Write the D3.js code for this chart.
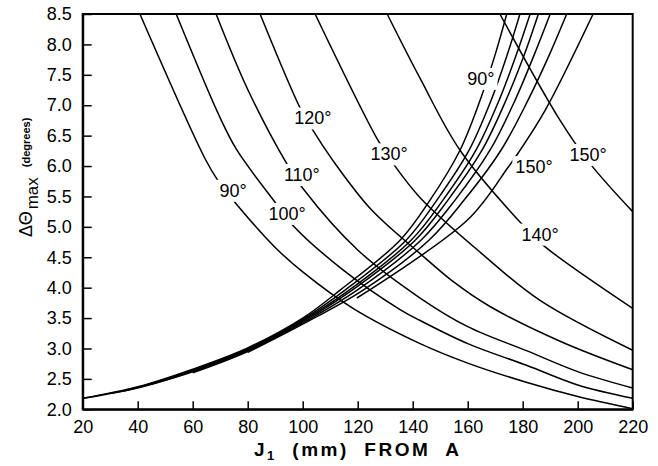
<!DOCTYPE html>
<html>
<head>
<meta charset="utf-8">
<script src="https://cdn.jsdelivr.net/npm/d3@7"></script>
<style>
body { margin: 0; background: #fff; }
text { font-family: "Liberation Sans", Arial, Helvetica, sans-serif; }
</style>
</head>
<body>
<svg id="chart" width="658" height="466"></svg>
<script>

// tick values
var xTicks = [20, 40, 60, 80, 100, 120, 140, 160, 180, 200, 220]
var yTicks = [2.0, 2.5, 3.0, 3.5, 4.0, 4.5, 5.0, 5.5, 6.0, 6.5, 7.0, 7.5, 8.0, 8.5]

var angles = [90, 100, 110, 120, 130, 140, 150]

// falling curves, [J1, delta theta max]
var desc90 = [[40.8, 8.5], [64.5, 6.12], [69.2, 5.76], [75.4, 5.40], [90, 4.66], [100, 4.26], [118.3, 3.66], [142.7, 3.08], [160, 2.76], [181.6, 2.44], [200, 2.21], [220, 2.01]]
var desc100 = [[54.0, 8.5], [69.9, 6.80], [76.1, 6.26], [90.0, 5.40], [96.1, 5.04], [115, 4.28], [135.4, 3.64], [142.7, 3.46], [160, 3.08], [181.6, 2.72], [200, 2.40], [220, 2.18]]
var desc110 = [[68.5, 8.5], [80.1, 7.25], [94.3, 6.03], [100.1, 5.63], [120, 4.62], [142.7, 3.83], [160, 3.36], [181.6, 2.96], [200, 2.62], [220, 2.35]]
var desc120 = [[84.5, 8.5], [99.0, 6.96], [103.4, 6.61], [111.0, 6.09], [125, 5.28], [142.7, 4.56], [155, 4.09], [168.1, 3.69], [194.0, 3.11], [220, 2.65]]
var desc130 = [[104.5, 8.5], [127.4, 6.42], [132.9, 6.04], [142.7, 5.48], [164.6, 4.58], [186.3, 3.79], [220, 2.97]]
var desc140 = [[130.7, 8.5], [142.7, 7.44], [157.2, 6.26], [179.0, 5.08], [187.4, 4.70], [220, 3.66]]
var desc150 = [[171.7, 8.5], [193.6, 6.75], [204.5, 6.04], [220, 5.25]]

// rising curves
var asc90 = [[20, 2.18], [40, 2.37], [60, 2.66], [80, 3.01], [100, 3.50], [113.6, 3.96], [135.4, 4.78], [146.3, 5.44], [157.2, 6.26], [164.5, 7.08], [169.9, 7.82], [174.2, 8.5]]
var asc100 = [[20, 2.18], [40, 2.36], [60, 2.645], [80, 2.995], [100, 3.48], [115.4, 3.96], [137.6, 4.78], [148.8, 5.44], [160.5, 6.26], [168.5, 7.08], [174.3, 7.82], [179.0, 8.5]]
var asc110 = [[30, 2.26], [40, 2.35], [60, 2.63], [80, 2.98], [100, 3.46], [116.9, 3.96], [139.4, 4.78], [151.0, 5.44], [163.0, 6.26], [171.4, 7.08], [177.6, 7.82], [182.7, 8.5]]
var asc120 = [[45, 2.41], [60, 2.615], [80, 2.965], [100, 3.44], [118.0, 3.96], [140.9, 4.78], [152.8, 5.44], [165.2, 6.26], [173.9, 7.08], [180.5, 7.82], [185.7, 8.5]]
var asc130 = [[60, 2.60], [80, 2.95], [100, 3.42], [119.8, 3.96], [143.0, 4.78], [155.4, 5.44], [168.1, 6.26], [177.2, 7.08], [184.1, 7.82], [190.0, 8.5]]
var asc140 = [[80, 2.935], [100, 3.40], [122.0, 3.96], [145.9, 4.78], [158.7, 5.44], [172.1, 6.26], [181.9, 7.08], [189.6, 7.82], [196.0, 8.5]]
var asc150 = [[119.7, 3.83], [160.1, 5.12], [174.7, 5.98], [178.3, 6.21], [188.1, 6.91], [205.6, 8.5]]

var descCurves = [desc90, desc100, desc110, desc120, desc130, desc140, desc150]
var ascCurves = [asc90, asc100, asc110, asc120, asc130, asc140, asc150]

// where the angle labels sit
var descLabelPos = [[74.7, 5.60], [94.3, 5.22], [99.7, 5.86], [103.7, 6.79], [131.4, 6.20], [186.3, 4.88], [203.8, 6.19]]
var ascLabelAngles = [90, 150]
var ascLabelPos = [[164.8, 7.44], [184.1, 5.99]]


var svg = d3.select("#chart")

var x = d3.scaleLinear().domain([20, 220]).range([82.7, 632.7])
var y = d3.scaleLinear().domain([2, 8.5]).range([409.3, 14])

svg.append("clipPath")
    .attr("id", "plotclip")
    .append("rect")
    .attr("x", x(20))
    .attr("y", y(8.5))
    .attr("width", x(220) - x(20))
    .attr("height", y(2) - y(8.5))

// catmull-rom keeps the sparse readings smooth
var line = d3.line()
    .x(function(d) { return x(d[0]) })
    .y(function(d) { return y(d[1]) })
    .curve(d3.curveCatmullRom.alpha(0.5))

var curves = svg.append("g").attr("clip-path", "url(#plotclip)")

curves.selectAll(".desc")
    .data(descCurves)
    .enter()
    .append("path")
    .attr("class", "desc")
    .attr("d", line)
    .attr("fill", "none")
    .attr("stroke", "#000")
    .attr("stroke-width", 1.5)

curves.selectAll(".asc")
    .data(ascCurves)
    .enter()
    .append("path")
    .attr("class", "asc")
    .attr("d", line)
    .attr("fill", "none")
    .attr("stroke", "#000")
    .attr("stroke-width", 1.5)


// labels: white box behind each one breaks the curve like in the print
var labels = []
descLabelPos.forEach(function(p, i) {
    labels.push({text: angles[i] + "°", pos: p})
})
ascLabelPos.forEach(function(p, i) {
    labels.push({text: ascLabelAngles[i] + "°", pos: p})
})

var lab = svg.selectAll(".anglelabel")
    .data(labels)
    .enter()
    .append("g")
    .attr("class", "anglelabel")
    .attr("transform", function(d) {
        return "translate(" + x(d.pos[0]) + "," + y(d.pos[1]) + ")"
    })

lab.append("rect")
    .attr("fill", "#fff")

lab.append("text")
    .attr("text-anchor", "middle")
    .attr("dy", "0.36em")
    .attr("font-size", 18)
    .attr("fill", "#000")
    .text(function(d) { return d.text })

lab.each(function() {
    var g = d3.select(this)
    var b = g.select("text").node().getBBox()
    g.select("rect")
        .attr("x", b.x - 3)
        .attr("y", b.y - 1)
        .attr("width", b.width + 6)
        .attr("height", b.height + 2)
})


// axes
var xAxis = svg.append("g")
    .attr("transform", "translate(0," + y(2) + ")")
    .call(d3.axisBottom(x).tickValues(xTicks).tickSizeInner(-8).tickSizeOuter(0).tickPadding(11))

var yAxis = svg.append("g")
    .attr("transform", "translate(" + x(20) + ",0)")
    .call(d3.axisLeft(y).tickValues(yTicks).tickFormat(d3.format(".1f")).tickSizeInner(-9).tickSizeOuter(0).tickPadding(11))

;[xAxis, yAxis].forEach(function(a) {
    a.attr("font-size", 18).attr("font-family", null)
    a.selectAll("text").attr("fill", "#000")
    a.selectAll(".tick line").attr("stroke", "#000").attr("stroke-width", 1.5)
    a.select(".domain").attr("stroke", "#000").attr("stroke-width", 2)
})

svg.append("rect")
    .attr("x", x(20))
    .attr("y", y(8.5))
    .attr("width", x(220) - x(20))
    .attr("height", y(2) - y(8.5))
    .attr("fill", "none")
    .attr("stroke", "#000")
    .attr("stroke-width", 2)


// axis titles
var xt = svg.append("text")
    .attr("x", (x(20) + x(220)) / 2)
    .attr("y", 456)
    .attr("text-anchor", "middle")
    .attr("font-size", 19)
    .attr("font-weight", "bold")
    .attr("letter-spacing", 2.5)
    .style("white-space", "pre")
xt.append("tspan").text("J")
xt.append("tspan").attr("font-size", 13).attr("dy", 4).text("1")
xt.append("tspan").attr("dy", -4).text("  (mm)  FROM  A")

var yt = svg.append("text")
    .attr("transform", "translate(32,237) rotate(-90)")
    .attr("font-size", 18)
yt.append("tspan").text("ΔΘ")
yt.append("tspan").attr("font-size", 17).attr("dy", 6).attr("dx", 2).text("max")
yt.append("tspan").attr("font-size", 11).attr("font-weight", "bold").attr("dy", -8).attr("dx", 10).text("(degrees)")

</script>
</body>
</html>
